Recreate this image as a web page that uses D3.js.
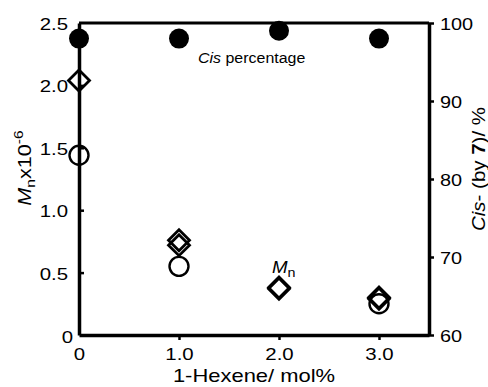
<!DOCTYPE html>
<html>
<head>
<meta charset="utf-8">
<script src="https://cdn.jsdelivr.net/npm/d3@7"></script>
<style>
	body { margin: 0; background: #fff; }
	svg text { font-family: "Liberation Sans", Arial, sans-serif; fill: #000; }
</style>
</head>
<body>
<svg id="chart" width="488" height="387"></svg>
<script>
'use strict';
(function() {
	//Data
	var hexene = [0, 1.0, 2.0, 3.0];
	var cisPct = [98, 98, 99, 98];
	var mnCircle = [1.44, 0.55, null, 0.25];
	var mnDiamondA = [2.04, 0.76, 0.38, 0.30];
	var mnDiamondB = [null, 0.72, 0.37, 0.29];

	var xTicks = [0, 1, 2, 3];
	var xTickLabels = ['0', '1.0', '2.0', '3.0'];
	var yLeftTicks = [0, 0.5, 1.0, 1.5, 2.0, 2.5];
	var yLeftLabels = ['0', '0.5', '1.0', '1.5', '2.0', '2.5'];
	var yRightTicks = [60, 70, 80, 90, 100];

	var margin = {left: 79, right: 59, top: 23, bottom: 52};
	var W = 488, H = 387;
	//the lettering of the figure is wider than Arial
	var STRETCH = 1.2;

	var svg = d3.select('#chart');

	//Scales
	var x = d3.scaleLinear().domain([0, 3.5]).range([margin.left, W - margin.right]);
	var yL = d3.scaleLinear().domain([0, 2.5]).range([H - margin.bottom, margin.top]);
	var yR = d3.scaleLinear().domain([60, 100]).range([H - margin.bottom, margin.top]);

	//Frame line on top
	svg.append('line')
		.attr('x1', x(0)).attr('x2', x(3.5))
		.attr('y1', yL(2.5)).attr('y2', yL(2.5))
		.attr('stroke', '#000').attr('stroke-width', 3);

	//Axes
	function styleAxis(g, size) {
		g.select('.domain').attr('stroke-width', 3.5);
		g.selectAll('.tick line').attr('stroke-width', 2.5);
		g.selectAll('.tick text').style('font-size', size + 'px');
	}

	var xAxis = svg.append('g')
		.attr('transform', 'translate(0,' + yL(0) + ')')
		.call(d3.axisBottom(x).tickValues(xTicks)
			.tickFormat(function(d, i) { return xTickLabels[i]; })
			.tickSize(5).tickSizeOuter(0).tickPadding(8));
	styleAxis(xAxis, 17);
	xAxis.selectAll('.tick text').attr('transform', 'scale(' + STRETCH + ',1)');
	xAxis.selectAll('.tick').filter(function(d) { return d === 0; }).select('line').remove();

	var yAxisL = svg.append('g')
		.attr('transform', 'translate(' + x(0) + ',0)')
		.call(d3.axisLeft(yL).tickValues(yLeftTicks)
			.tickFormat(function(d, i) { return yLeftLabels[i]; })
			.tickSizeInner(-5).tickSizeOuter(0));
	styleAxis(yAxisL, 17);
	yAxisL.selectAll('.tick text')
		.attr('x', 0).attr('dy', '0.38em')
		.attr('transform', function(d) {
			return 'translate(' + (d === 0 ? -6 : -11) + ',' + (d === 0 ? 1 : 0) + ') scale(' + STRETCH + ',1)';
		});
	yAxisL.selectAll('.tick').filter(function(d) { return d === 0 || d === 2.5; }).select('line').remove();

	var yAxisR = svg.append('g')
		.attr('transform', 'translate(' + x(3.5) + ',0)')
		.call(d3.axisRight(yR).tickValues(yRightTicks)
			.tickSize(5).tickSizeOuter(0));
	styleAxis(yAxisR, 17);
	yAxisR.selectAll('.tick text')
		.attr('x', 0).attr('dy', '0.36em')
		.attr('transform', 'translate(11,0) scale(1.17,1)');

	//Markers
	var diamond = function(cx, cy, r) {
		return 'M' + cx + ',' + (cy - r) + 'L' + (cx + r) + ',' + cy +
			'L' + cx + ',' + (cy + r) + 'L' + (cx - r) + ',' + cy + 'Z';
	};

	function drawCircles(vals, scale, filled) {
		svg.append('g').selectAll('circle')
			.data(vals.map(function(v, i) { return {x: hexene[i], v: v}; })
				.filter(function(d) { return d.v !== null; }))
			.enter().append('circle')
				.attr('cx', function(d) { return x(d.x); })
				.attr('cy', function(d) { return scale(d.v); })
				.attr('r', filled ? 10 : 9.5)
				.attr('fill', filled ? '#000' : 'none')
				.attr('stroke', '#000')
				.attr('stroke-width', filled ? 0 : 2.4);
	}

	function drawDiamonds(vals) {
		svg.append('g').selectAll('path')
			.data(vals.map(function(v, i) { return {x: hexene[i], v: v}; })
				.filter(function(d) { return d.v !== null; }))
			.enter().append('path')
				.attr('d', function(d) { return diamond(x(d.x), yL(d.v), 10.5); })
				.attr('fill', 'none')
				.attr('stroke', '#000')
				.attr('stroke-width', 2.8)
				.attr('stroke-linejoin', 'miter');
	}

	drawCircles(mnCircle, yL, false);
	drawDiamonds(mnDiamondB);
	drawDiamonds(mnDiamondA);
	drawCircles(cisPct, yR, true);

	//Annotations
	var cisNote = svg.append('text')
		.attr('transform', 'translate(' + (x(1) + 19) + ',63) scale(1.03,1)')
		.style('font-size', '15.5px');
	cisNote.append('tspan').style('font-style', 'italic').text('Cis');
	cisNote.append('tspan').text(' percentage');

	var mnNote = svg.append('text')
		.attr('transform', 'translate(' + (x(2) - 7) + ',273) scale(1.1,1)')
		.style('font-size', '17px');
	mnNote.append('tspan').style('font-style', 'italic').text('M');
	mnNote.append('tspan').attr('dy', 4).style('font-size', '13px').text('n');

	//Axis titles
	svg.append('text')
		.attr('transform', 'translate(' + x(1.75) + ',382) scale(1.22,1)')
		.attr('text-anchor', 'middle')
		.style('font-size', '18px')
		.text('1-Hexene/ mol%');

	var yTitleL = svg.append('text')
		.attr('transform', 'translate(31,168) rotate(-90) scale(1.2,1)')
		.attr('text-anchor', 'middle')
		.style('font-size', '18px');
	yTitleL.append('tspan').style('font-style', 'italic').text('M');
	yTitleL.append('tspan').attr('dy', 4).style('font-size', '13px').text('n');
	yTitleL.append('tspan').attr('dy', -4).text('x10');
	yTitleL.append('tspan').attr('dy', -8).style('font-size', '13px').text('-6');

	var yTitleR = svg.append('text')
		.attr('transform', 'translate(485,169) rotate(-90) scale(1.17,1)')
		.attr('text-anchor', 'middle')
		.style('font-size', '17.5px');
	yTitleR.append('tspan').style('font-style', 'italic').text('Cis');
	yTitleR.append('tspan').text('- (by ');
	yTitleR.append('tspan').style('font-weight', 'bold').text('7');
	yTitleR.append('tspan').text(')/ %');
})();
</script>
</body>
</html>
